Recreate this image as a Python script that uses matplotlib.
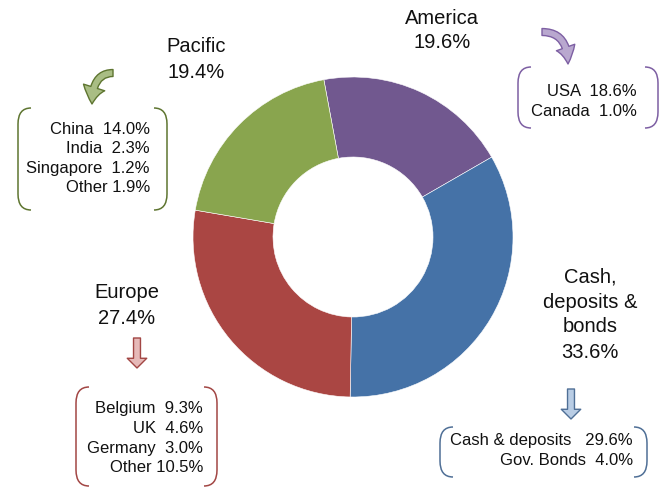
import matplotlib
matplotlib.use("Agg")
import matplotlib.pyplot as plt
from matplotlib.path import Path
from matplotlib.patches import PathPatch, FancyArrowPatch

plt.rcParams['font.family'] = ['Liberation Sans', 'DejaVu Sans']

# ---- data ----
regions = ["America", "Cash,\ndeposits &\nbonds", "Europe", "Pacific"]
shares = [19.6, 33.6, 27.4, 19.4]
colors = ["#71588F", "#4572A7", "#AA4643", "#89A54E"]

pacific_items = ["China  ", "India  ", "Singapore  ", "Other "]
pacific_vals = ["14.0%", "2.3%", "1.2%", "1.9%"]
america_items = ["USA  ", "Canada  "]
america_vals = ["18.6%", "1.0%"]
cash_items = ["Cash & deposits   ", "Gov. Bonds  "]
cash_vals = ["29.6%", "4.0%"]
europe_items = ["Belgium  ", "UK  ", "Germany  ", "Other "]
europe_vals = ["9.3%", "4.6%", "3.0%", "10.5%"]

W, H = 670, 488
fig = plt.figure(figsize=(W / 100, H / 100), dpi=100)

# pie axes
cx, cy, R = 353, 237, 160
pax = fig.add_axes([(cx - R) / W, (H - cy - R) / H, 2 * R / W, 2 * R / H])
pax.pie(shares, colors=colors, startangle=100.5, counterclock=False,
        radius=1.0, wedgeprops=dict(width=0.5, edgecolor='white', linewidth=0.4))
pax.set_xlim(-1, 1)
pax.set_ylim(-1, 1)
pax.set_aspect('equal')
pax.axis('off')

# overlay axes in pixel coordinates
ax = fig.add_axes([0, 0, 1, 1], facecolor='none')
ax.set_xlim(0, W)
ax.set_ylim(H, 0)
ax.axis('off')

BIG = 14.5
SMALL = 12

def big_label(x, y, lines, pct, step=25):
    for i, t in enumerate(lines):
        ax.text(x, y + i * step, t, ha='center', va='center', fontsize=BIG, color='#111111')
    ax.text(x, y + len(lines) * step, pct, ha='center', va='center', fontsize=BIG, color='#111111')

big_label(442, 18, ["America"], "19.6%")
big_label(196, 47, ["Pacific"], "19.4%")
big_label(127, 293, ["Europe"], "27.4%")
big_label(590, 277, ["Cash,", "deposits &", "bonds"], "33.6%")

def bracket(x, top, bottom, side, color, w=13, h=16):
    s = 1 if side == 'left' else -1
    verts = [(x + s * w, top), (x, top), (x, top + h),
             (x, bottom - h), (x, bottom), (x + s * w, bottom)]
    codes = [Path.MOVETO, Path.CURVE3, Path.CURVE3,
             Path.LINETO, Path.CURVE3, Path.CURVE3]
    ax.add_patch(PathPatch(Path(verts, codes), fill=False, edgecolor=color, lw=1.1))

def detail_box(xl, xr, top, bottom, xtext, y0, step, items, vals, color):
    bracket(xl, top, bottom, 'left', color)
    bracket(xr, top, bottom, 'right', color)
    for i, (it, v) in enumerate(zip(items, vals)):
        ax.text(xtext, y0 + i * step, it + v,
                ha='right', va='center', fontsize=SMALL, color='#111111')

detail_box(18, 167, 108, 210, 150, 129, 19.5, pacific_items, pacific_vals, '#5E7530')
detail_box(518, 658, 67, 128, 637, 92, 20, america_items, america_vals, '#7D5FA3')
detail_box(440, 647, 427, 477, 633, 441, 19.5, cash_items, cash_vals, '#4F6F96')
detail_box(76, 217, 387, 486, 203, 409, 19.5, europe_items, europe_vals, '#A24644')

def block_arrow(p0, p1, face, edge, conn="arc3,rad=0", tw=0.5, hw=1.4, hl=0.7, ms=10):
    a = FancyArrowPatch(p0, p1, connectionstyle=conn,
                        arrowstyle=f"simple,head_width={hw},head_length={hl},tail_width={tw}",
                        mutation_scale=ms, facecolor=face, edgecolor=edge, lw=1.0,
                        shrinkA=0, shrinkB=0)
    ax.add_patch(a)

block_arrow((137, 338), (137, 368), '#E6B9B8', '#A24644')
block_arrow((571, 389), (571, 419), '#B9CDE5', '#4F6F96')
block_arrow((113, 73), (92, 104), '#A9BD84', '#5E7530',
            conn="angle3,angleA=180,angleB=90", hw=1.6, hl=1.2)
block_arrow((542, 32), (568, 64), '#B9A8CF', '#7D5FA3',
            conn="angle3,angleA=0,angleB=90", hw=1.4, hl=1.2)

fig.savefig("out.png", dpi=100, facecolor='white')
